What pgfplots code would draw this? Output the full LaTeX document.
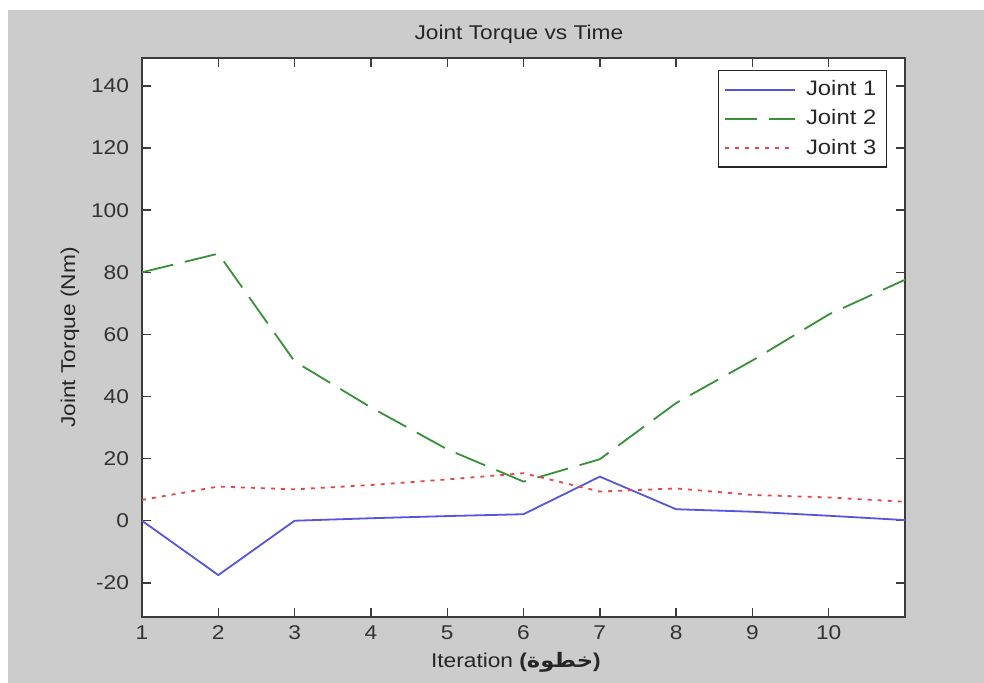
\documentclass[border=0pt]{standalone}
\usepackage{pgfplots}
\pgfplotsset{compat=1.18}
\usepackage{fontspec}
\setmainfont[FakeStretch=1.14]{Liberation Sans}
\newfontfamily\arabicfont[Script=Arabic,FakeStretch=1.14]{DejaVu Sans}
\TeXXeTstate=1
\definecolor{figgray}{RGB}{204,204,204}
\definecolor{axgray}{RGB}{60,60,60}
\definecolor{jblue}{RGB}{85,85,225}
\definecolor{jgreen}{RGB}{55,145,55}
\definecolor{jred}{RGB}{230,70,70}
\pgfplotstableread{
x j1 j2 j3
1 0 80 6.7
2 -17.5 86 11
3 0 51.3 10.1
4 0.8 36.5 11.5
5 1.5 23 13.3
6 2.1 12.6 15.3
7 14.2 19.8 9.4
8 3.7 37.9 10.4
9 2.9 51.6 8.3
10 1.6 66.4 7.5
11 0.2 77.6 6.1
}\data
\begin{document}
\begin{tikzpicture}
\fill[white] (0,0) rectangle (492bp,341.5bp);
\fill[figgray] (4bp,0) rectangle (492bp,336.5bp);
\begin{axis}[
  at={(71bp,33bp)}, anchor=south west,
  scale only axis, width=381.5bp, height=279.5bp,
  xmin=1, xmax=11, ymin=-31, ymax=149,
  xtick={1,...,10}, ytick={-20,0,...,140},
  tick align=inside, major tick length=4.5bp,
  axis line style={axgray, line width=0.8bp},
  every tick/.style={axgray, line width=0.7bp},
  axis background/.style={fill=white},
  font=\fontsize{10}{12}\selectfont,
  /pgf/number format/assume math mode=true,
  ticklabel style={font=\fontsize{10}{12}\selectfont, text=black!80},
  xticklabel style={yshift=-1pt},
  yticklabel style={xshift=-3pt},
  every axis title shift=0pt,
  title={Joint Torque vs Time},
  title style={at={(axis description cs:0.494,1.043)}, anchor=center, text=black!85},
  xlabel={Iteration \textbf{(}{\arabicfont\bfseries\beginR خطوة\endR}\textbf{)}},
  xlabel style={at={(axis description cs:0.49,-0.0805)}, anchor=center, text=black!85},
  ylabel={Joint Torque (Nm)},
  ylabel style={at={(axis description cs:-0.0945,0.5)}, anchor=center, rotate=0, text=black!85},
  legend cell align=left,
  legend image code/.code={\draw[#1] (0bp,0bp) -- (35bp,0bp); \path (38bp,0bp);},
  legend style={at={(axis description cs:1,1)}, anchor=north east, xshift=-9bp, yshift=-6bp,
    draw=black!85, line width=0.7bp, fill=white, font=\fontsize{10.5}{12}\selectfont,
    row sep=1.5bp, inner xsep=3bp, inner ysep=3bp,
    nodes={text=black!85}},
]
\addplot[jblue, line width=0.9bp] table[x=x,y=j1] {\data};
\addlegendentry{Joint 1}
\addplot[jgreen, line width=0.9bp, dash pattern=on 16bp off 6bp] table[x=x,y=j2] {\data};
\addlegendentry{Joint 2}
\addplot[jred, line width=0.9bp, dash pattern=on 2bp off 3bp] table[x=x,y=j3] {\data};
\addlegendentry{Joint 3}
\end{axis}
\pgfresetboundingbox
\useasboundingbox (0,0) rectangle (492bp,341.5bp);
\end{tikzpicture}
\end{document}
